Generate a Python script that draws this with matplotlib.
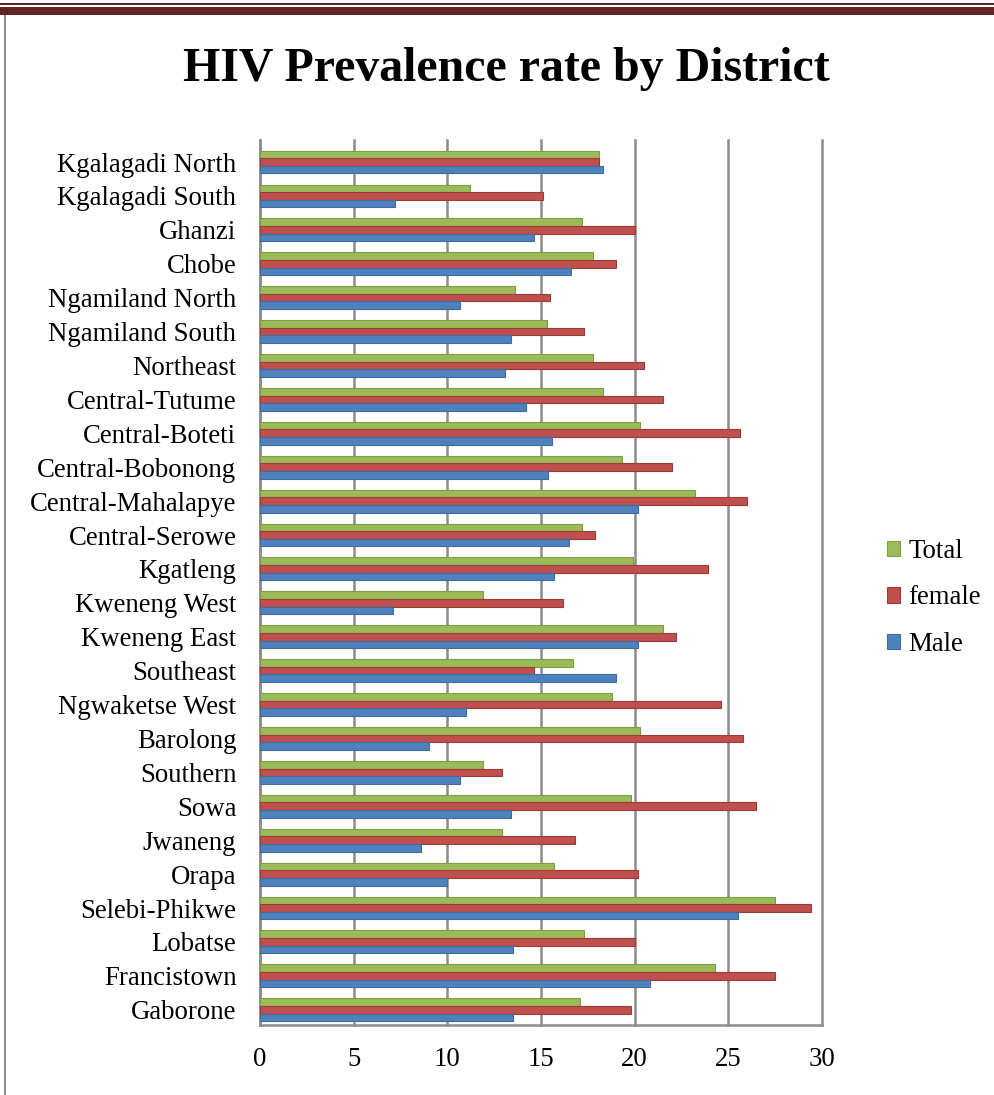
import numpy as np
import matplotlib
matplotlib.use("Agg")
import matplotlib.pyplot as plt
from matplotlib.patches import Rectangle
from matplotlib.lines import Line2D

plt.rcParams['font.family'] = ['Liberation Serif', 'DejaVu Serif']

# Data (top to bottom as shown in the chart)
districts = ["Kgalagadi North", "Kgalagadi South", "Ghanzi", "Chobe", "Ngamiland North",
             "Ngamiland South", "Northeast", "Central-Tutume", "Central-Boteti",
             "Central-Bobonong", "Central-Mahalapye", "Central-Serowe", "Kgatleng",
             "Kweneng West", "Kweneng East", "Southeast", "Ngwaketse West", "Barolong",
             "Southern", "Sowa", "Jwaneng", "Orapa", "Selebi-Phikwe", "Lobatse",
             "Francistown", "Gaborone"]
total = [18.1, 11.2, 17.2, 17.8, 13.6, 15.3, 17.8, 18.3, 20.3, 19.3, 23.2, 17.2, 19.9,
         11.9, 21.5, 16.7, 18.8, 20.3, 11.9, 19.8, 12.9, 15.7, 27.5, 17.3, 24.3, 17.1]
female = [18.1, 15.1, 20.0, 19.0, 15.5, 17.3, 20.5, 21.5, 25.6, 22.0, 26.0, 17.9, 23.9,
          16.2, 22.2, 14.6, 24.6, 25.8, 12.9, 26.5, 16.8, 20.2, 29.4, 20.0, 27.5, 19.8]
male = [18.3, 7.2, 14.6, 16.6, 10.7, 13.4, 13.1, 14.2, 15.6, 15.4, 20.2, 16.5, 15.7,
        7.1, 20.2, 19.0, 11.0, 9.0, 10.7, 13.4, 8.6, 10.0, 25.5, 13.5, 20.8, 13.5]

c_total, c_female, c_male = "#9BBB59", "#C0504D", "#4F81BD"
e_total, e_female, e_male = "#7E9C43", "#9E3B39", "#3F6CA3"

fig = plt.figure(figsize=(9.94, 10.95), dpi=100)

# page decoration: dark red rules at the top, grey border on the left
fig.add_artist(Rectangle((0, 1 - 15 / 1095), 1, 8 / 1095, transform=fig.transFigure,
                         color="#632523", lw=0))
fig.add_artist(Rectangle((0, 1 - 4.5 / 1095), 1, 1.8 / 1095, transform=fig.transFigure,
                         color="#632523", lw=0))
fig.add_artist(Line2D([4.5 / 994, 4.5 / 994], [0, 1 - 16 / 1095], transform=fig.transFigure,
                      color="#8C8C8C", lw=1.5))

fig.text(0.509, 1 - 69 / 1095, "HIV Prevalence rate by District", ha="center", va="center",
         fontsize=34.5, fontweight="bold")

ax = fig.add_axes([260 / 994, 1 - 1025 / 1095, 562 / 994, 885 / 1095])

n = len(districts)
y = np.arange(n)[::-1]
h = 0.225
ax.barh(y + h, total, height=h, color=c_total, edgecolor=e_total, lw=0.8, label="Total", zorder=3)
ax.barh(y, female, height=h, color=c_female, edgecolor=e_female, lw=0.8, label="female", zorder=3)
ax.barh(y - h, male, height=h, color=c_male, edgecolor=e_male, lw=0.8, label="Male", zorder=3)

ax.set_xlim(0, 30)
ax.set_ylim(-0.45, n - 1 + 0.65)
ax.set_xticks(np.arange(0, 31, 5))
ax.set_yticks(y)
ax.set_yticklabels(districts)
ax.tick_params(axis="both", length=0, labelsize=19.3)
ax.tick_params(axis="x", pad=16)
ax.tick_params(axis="y", pad=17)

ax.grid(axis="x", color="#8C8C8C", lw=1.8, zorder=0)
for gl in ax.get_xgridlines():
    gl.set_clip_on(False)
for s in ["top", "right"]:
    ax.spines[s].set_visible(False)
for s in ["left", "bottom"]:
    ax.spines[s].set_color("#8C8C8C")
    ax.spines[s].set_linewidth(1.8)

handles, labels = ax.get_legend_handles_labels()
fig.legend(handles, labels, loc="center left", bbox_to_anchor=(887 / 994, 1 - 598 / 1095),
           frameon=False, fontsize=19.3, handlelength=0.5, handleheight=0.5, handletextpad=0.3,
           labelspacing=0.8, borderaxespad=0, borderpad=0)

fig.savefig("out.png", dpi=100)
